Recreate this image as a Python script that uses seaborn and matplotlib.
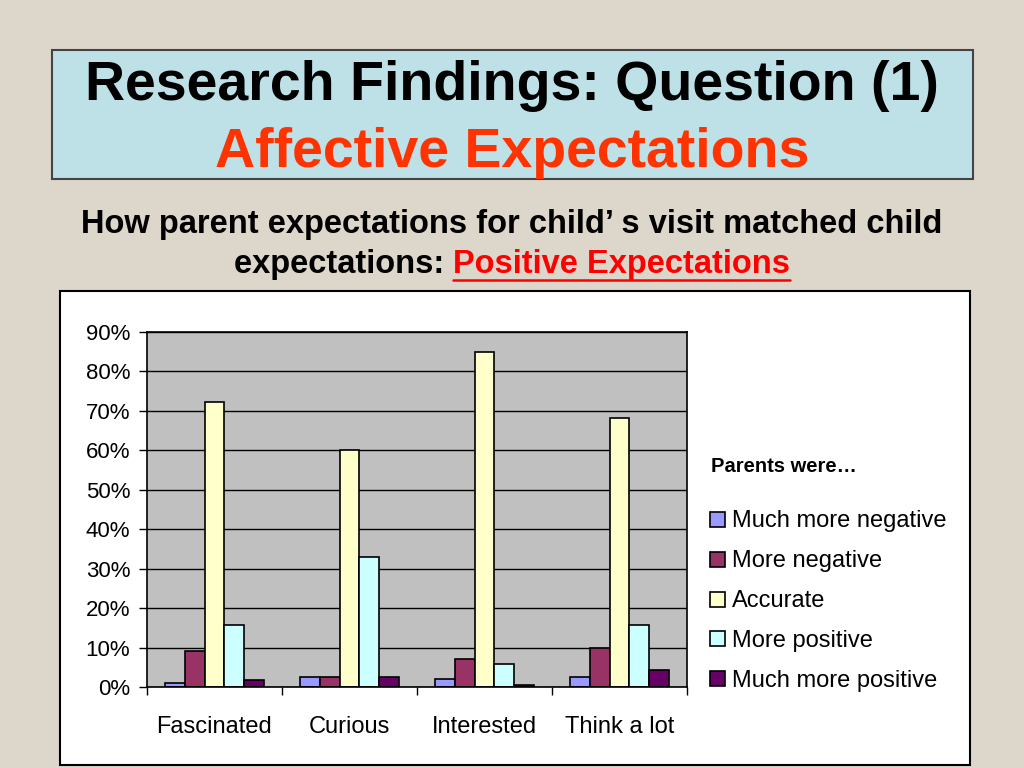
import numpy as np
import pandas as pd
import seaborn as sns
import matplotlib
matplotlib.use("Agg")
import matplotlib.pyplot as plt
from matplotlib.patches import Rectangle
from matplotlib.lines import Line2D
from matplotlib.ticker import PercentFormatter, FixedLocator

# data
categories = ["Fascinated", "Curious", "Interested", "Think a lot"]
responses = ["Much more negative", "More negative", "Accurate",
             "More positive", "Much more positive"]
much_more_negative = [0.010, 0.025, 0.020, 0.025]
more_negative = [0.091, 0.025, 0.071, 0.100]
accurate = [0.723, 0.600, 0.850, 0.683]
more_positive = [0.157, 0.330, 0.058, 0.157]
much_more_positive = [0.018, 0.025, 0.005, 0.043]
colors = ["#9999ff", "#993366", "#ffffcc", "#ccffff", "#660066"]

series = [much_more_negative, more_negative, accurate, more_positive, much_more_positive]
rows = []
for resp, vals in zip(responses, series):
    for cat, v in zip(categories, vals):
        rows.append({"category": cat, "response": resp, "value": v})
df = pd.DataFrame(rows)

sns.set_style("white")
plt.rcParams["font.family"] = ["Liberation Sans", "DejaVu Sans"]
plt.rcParams["text.color"] = "black"
plt.rcParams["xtick.color"] = "black"
plt.rcParams["ytick.color"] = "black"

W, H = 1024, 768
fig = plt.figure(figsize=(W / 100, H / 100), dpi=100)
fig.patch.set_facecolor("#ddd6cb")


def fx(px):
    return px / W


def fy(py):
    return 1 - py / H


# title box
fig.patches.append(Rectangle((fx(52), fy(179)), fx(973) - fx(52), fy(50) - fy(179),
                             transform=fig.transFigure, facecolor="#bde1e6",
                             edgecolor="#444444", linewidth=1.5))
fig.text(fx(512), fy(86), "Research Findings: Question (1)", ha="center", va="center",
         fontsize=40, fontweight="bold", color="black")
fig.text(fx(512), fy(153), "Affective Expectations", ha="center", va="center",
         fontsize=40, fontweight="bold", color="#ff3300")

# subtitle
fig.text(fx(512), fy(224), "How parent expectations for child\u2019 s visit matched child",
         ha="center", va="center", fontsize=23.5, fontweight="bold", color="black")
t1 = fig.text(0, fy(265), "expectations: ", ha="left", va="center",
              fontsize=23.5, fontweight="bold", color="black")
t2 = fig.text(0, fy(265), "Positive Expectations", ha="left", va="center",
              fontsize=23.5, fontweight="bold", color="#ff0000")
fig.canvas.draw()
r = fig.canvas.get_renderer()
w1 = t1.get_window_extent(r).width
w2 = t2.get_window_extent(r).width
start = 512 - (w1 + w2) / 2
t1.set_x(fx(start))
t2.set_x(fx(start + w1))
fig.lines.append(Line2D([fx(start + w1), fx(start + w1 + w2)], [fy(280), fy(280)],
                        transform=fig.transFigure, color="#ff0000", linewidth=1.8))

# white chart box
fig.patches.append(Rectangle((fx(60), fy(765)), fx(970) - fx(60), fy(291) - fy(765),
                             transform=fig.transFigure, facecolor="white",
                             edgecolor="black", linewidth=1.5, zorder=0))

# plot area
ax = fig.add_axes([fx(147), fy(687), fx(687) - fx(147), fy(332) - fy(687)])
ax.set_zorder(3)
ax.set_facecolor("#c0c0c0")
sns.barplot(data=df, x="category", y="value", hue="response", palette=colors,
            hue_order=responses, order=categories, edgecolor="black", linewidth=1.2,
            width=0.74, saturation=1, ax=ax)
ax.set_ylim(0, 0.9)
ax.set_xlim(-0.5, 3.5)
ax.set_yticks(np.arange(0, 0.91, 0.1))
ax.yaxis.set_major_formatter(PercentFormatter(1.0, decimals=0))
ax.yaxis.grid(True, color="black", linewidth=1)
ax.set_axisbelow(True)
ax.xaxis.set_major_locator(FixedLocator([-0.5, 0.5, 1.5, 2.5, 3.5]))
ax.xaxis.set_minor_locator(FixedLocator([0, 1, 2, 3]))
ax.set_xticklabels([], minor=False)
ax.set_xticklabels(categories, minor=True)
ax.tick_params(axis="x", which="major", direction="out", length=6, width=1, color="black",
               bottom=True)
ax.tick_params(axis="x", which="minor", length=0, pad=21, labelsize=17)
ax.tick_params(axis="y", direction="out", length=6, width=1, color="black", left=True,
               labelsize=16, pad=6)
for s in ax.spines.values():
    s.set_color("black")
    s.set_linewidth(1.2)
ax.set_xlabel("")
ax.set_ylabel("")

handles, labels = ax.get_legend_handles_labels()
ax.get_legend().remove()
fig.text(fx(711), fy(467), "Parents were\u2026", ha="left", va="center",
         fontsize=14.5, fontweight="bold", color="black")
fig.legend(handles, labels, loc="upper left", bbox_to_anchor=(fx(701), fy(501)),
           frameon=False, fontsize=17, labelspacing=0.76, handlelength=0.6,
           handleheight=0.6, handletextpad=0.3, borderaxespad=0)

fig.savefig("out.png", dpi=100)
